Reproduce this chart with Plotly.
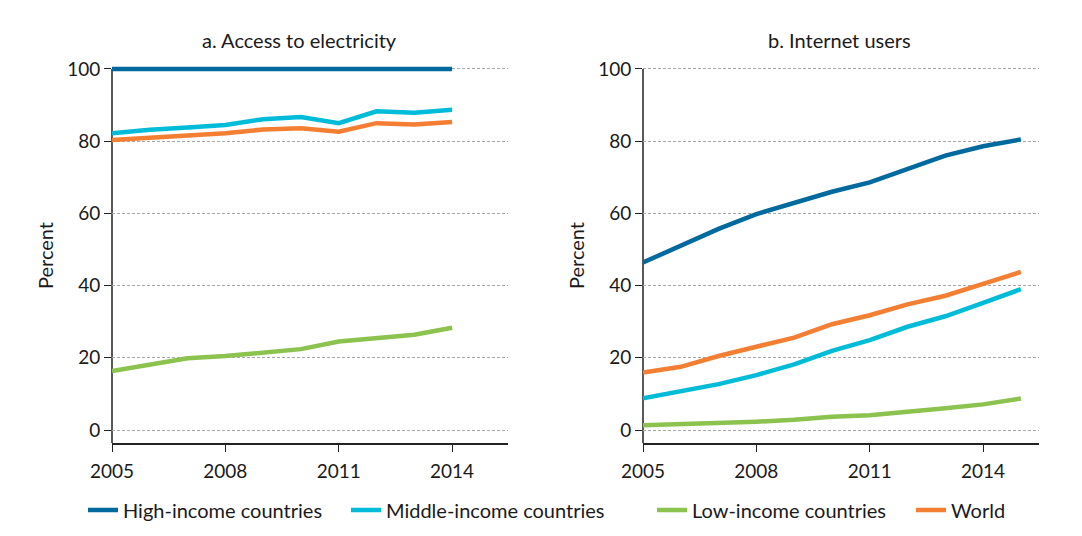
import plotly.graph_objects as go

# ---- data ----
years_a = [2005, 2006, 2007, 2008, 2009, 2010, 2011, 2012, 2013, 2014]
elec_high = [100, 100, 100, 100, 100, 100, 100, 100, 100, 100]
elec_middle = [82.2, 83.2, 83.8, 84.5, 86.1, 86.7, 85.0, 88.3, 87.9, 88.7]
elec_low = [16.3, 18.2, 19.9, 20.5, 21.4, 22.4, 24.5, 25.5, 26.4, 28.3]
elec_world = [80.3, 80.9, 81.6, 82.2, 83.25, 83.6, 82.6, 85.0, 84.6, 85.3]

years_b = [2005, 2006, 2007, 2008, 2009, 2010, 2011, 2012, 2013, 2014, 2015]
net_high = [46.4, 51.0, 55.7, 59.8, 62.9, 66.0, 68.6, 72.3, 76.0, 78.6, 80.5]
net_middle = [8.8, 10.8, 12.7, 15.2, 18.2, 21.9, 24.9, 28.6, 31.5, 35.2, 39.0]
net_low = [1.3, 1.6, 1.8, 2.3, 2.85, 3.7, 4.1, 4.9, 6.0, 7.1, 8.7]
net_world = [15.9, 17.5, 20.5, 23.0, 25.6, 29.3, 31.8, 34.8, 37.2, 40.5, 43.8]

series_names = ["High-income countries", "Middle-income countries", "Low-income countries", "World"]
series_colors = ["#00699e", "#00bcd8", "#8cc24e", "#f47e32"]
x_ticks = [2005, 2008, 2011, 2014]
y_ticks = [0, 20, 40, 60, 80, 100]
panel_titles = ["a. Access to electricity", "b. Internet users"]
y_title = "Percent"

FONT = "Lato"
TXT = "#1a1a1a"
OFF = 8                      # page body margin
W, H = 1082 - OFF, 536 - OFF  # figure size so it fits the window


def px_x(p):  # page pixel -> paper fraction
    return (p - OFF) / W


def px_y(p):
    return 1 - (p - OFF) / H


Y_MIN, Y_MAX_AXIS, Y_TOP = -3.6, 100, 101.4
PX_PER_UNIT = (443 - 69) / (Y_MAX_AXIS - Y_MIN)

fig = go.Figure()

panel_a = [elec_high, elec_middle, elec_low, elec_world]
panel_b = [net_high, net_middle, net_low, net_world]
legend_ids = ["legend", "legend2", "legend3", "legend4"]
legend_text_px = [125, 388, 694, 953]

for i, (name, col) in enumerate(zip(series_names, series_colors)):
    fig.add_trace(go.Scatter(x=years_a, y=panel_a[i], mode="lines", name=name,
                             line=dict(color=col, width=4.5), xaxis="x", yaxis="y",
                             legend=legend_ids[i], showlegend=True))
for i, (name, col) in enumerate(zip(series_names, series_colors)):
    fig.add_trace(go.Scatter(x=years_b, y=panel_b[i], mode="lines", name=name,
                             line=dict(color=col, width=4.5), xaxis="x2", yaxis="y2",
                             showlegend=False))

ydom = [px_y(443), px_y(69 - (Y_TOP - Y_MAX_AXIS) * PX_PER_UNIT)]
xaxis_common = dict(range=[2005, 2015.48], tickvals=x_ticks, showgrid=False,
                    showline=True, linecolor="#222", linewidth=1.5,
                    ticks="outside", ticklen=7, tickcolor="#222", tickwidth=1.2,
                    ticklabelstandoff=3,
                    tickfont=dict(family=FONT, size=19, color=TXT), zeroline=False,
                    automargin=False)
yaxis_common = dict(range=[Y_MIN, Y_TOP], tickvals=y_ticks, showgrid=True,
                    gridcolor="#a8a8a8", griddash="3px,2px", gridwidth=1,
                    showline=False,
                    ticks="outside", ticklen=7, tickcolor="#222", tickwidth=1.2,
                    tickfont=dict(family=FONT, size=19, color=TXT), zeroline=False,
                    domain=ydom, automargin=False)

legend_common = dict(orientation="h", xanchor="left", y=px_y(510), yanchor="middle",
                     font=dict(family=FONT, size=20, color=TXT), itemwidth=30,
                     bgcolor="rgba(0,0,0,0)", borderwidth=0)

layout_legends = {}
for lid, tx in zip(legend_ids, legend_text_px):
    layout_legends[lid] = dict(legend_common, x=px_x(tx - 42))

axis_lines = []
for xr, yr in (("x", "y"), ("x2", "y2")):
    axis_lines.append(dict(type="line", xref=f"{xr} domain", yref=yr, x0=0, x1=0,
                           y0=Y_MIN, y1=Y_MAX_AXIS, line=dict(color="#222", width=1.5),
                           layer="below"))

fig.update_layout(
    width=W, height=H,
    margin=dict(l=0, r=0, t=0, b=0, pad=0, autoexpand=False),
    paper_bgcolor="white",
    plot_bgcolor="rgba(0,0,0,0)",
    font=dict(family=FONT, color=TXT),
    xaxis=dict(xaxis_common, domain=[px_x(112), px_x(508)], anchor="y"),
    yaxis=dict(yaxis_common, anchor="x"),
    xaxis2=dict(xaxis_common, domain=[px_x(643), px_x(1039)], anchor="y2"),
    yaxis2=dict(yaxis_common, anchor="x2"),
    shapes=axis_lines,
    annotations=[
        dict(text=panel_titles[0], xref="paper", yref="paper", x=px_x(299), y=px_y(40),
             xanchor="center", yanchor="middle",
             showarrow=False, font=dict(family=FONT, size=20, color=TXT)),
        dict(text=panel_titles[1], xref="paper", yref="paper", x=px_x(839), y=px_y(40),
             xanchor="center", yanchor="middle",
             showarrow=False, font=dict(family=FONT, size=20, color=TXT)),
        dict(text=y_title, xref="paper", yref="paper", x=px_x(45), y=px_y(256),
             xanchor="center", yanchor="middle",
             showarrow=False, textangle=-90, font=dict(family=FONT, size=20, color=TXT)),
        dict(text=y_title, xref="paper", yref="paper", x=px_x(576), y=px_y(256),
             xanchor="center", yanchor="middle",
             showarrow=False, textangle=-90, font=dict(family=FONT, size=20, color=TXT)),
    ],
    **layout_legends,
)

fig.write_html("out.html")
